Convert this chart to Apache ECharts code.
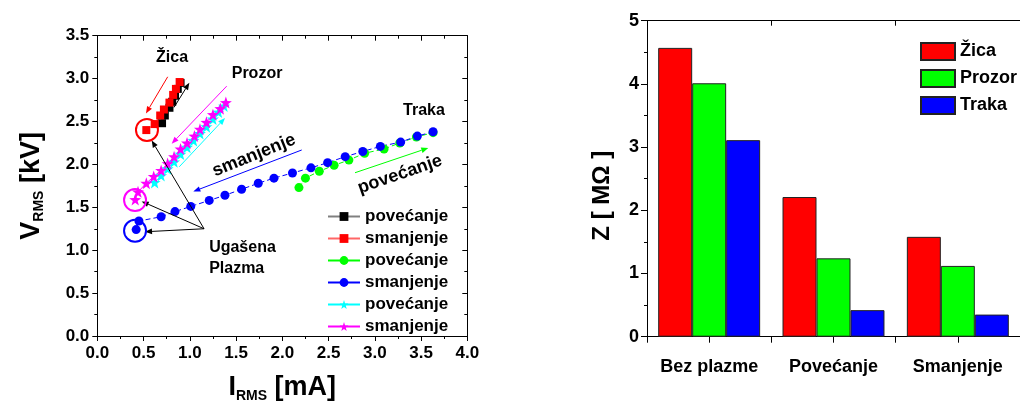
<!DOCTYPE html>
<html><head><meta charset="utf-8">
<script src="https://cdn.jsdelivr.net/npm/echarts@6/dist/echarts.min.js"></script>
<style>html,body{margin:0;padding:0;background:#fff}#c{width:1020px;height:408px}</style>
</head><body><div id="c"></div>
<script>
// ---- Left chart data: [I_RMS mA, V_RMS kV]
const zicaUp = [[0.70,2.48],[0.73,2.57],[0.78,2.66],[0.81,2.73],[0.84,2.80],[0.87,2.88],[0.90,2.95]];
const zicaDown = [[0.89,2.96],[0.85,2.88],[0.82,2.81],[0.78,2.72],[0.72,2.64],[0.68,2.57],[0.62,2.47],[0.53,2.40]];
const trakaUp = [[2.18,1.73],[2.25,1.84],[2.40,1.92],[2.56,1.99],[2.72,2.05],[2.89,2.13],[3.10,2.18],[3.27,2.25],[3.45,2.32],[3.63,2.37]];
const trakaDown = [[3.63,2.38],[3.46,2.33],[3.28,2.26],[3.06,2.21],[2.87,2.15],[2.68,2.09],[2.49,2.02],[2.31,1.96],[2.11,1.90],[1.91,1.84],[1.74,1.78],[1.56,1.71],[1.38,1.64],[1.21,1.58],[1.01,1.51],[0.84,1.45],[0.69,1.39],[0.45,1.34],[0.42,1.24]];
const prozorUp = [[0.62,1.79],[0.69,1.87],[0.76,1.95],[0.83,2.03],[0.90,2.12],[0.97,2.20],[1.04,2.28],[1.11,2.36],[1.18,2.44],[1.25,2.53],[1.31,2.61],[1.37,2.68]];
const prozorDown = [[1.39,2.72],[1.33,2.65],[1.25,2.58],[1.18,2.49],[1.11,2.41],[1.05,2.33],[0.97,2.25],[0.90,2.18],[0.83,2.09],[0.76,2.01],[0.69,1.93],[0.61,1.86],[0.53,1.78],[0.44,1.68],[0.41,1.59]];
const leftNames = ['povećanje','smanjenje','povećanje\u200b','smanjenje\u200b','povećanje\u200b\u200b','smanjenje\u200b\u200b'];

// ---- Right chart data
const categories = ['Bez plazme','Povećanje','Smanjenje'];
const barNames = ['Žica','Prozor','Traka'];
const zicaZ = [4.57,2.21,1.58];
const prozorZ = [4.01,1.24,1.12];
const trakaZ = [3.11,0.42,0.35];

// ---- Annotations (data coordinates of left chart)
const arrows = [
  {from:[0.761,3.021], to:[0.526,2.594], color:'#ff0000'},
  {from:[0.829,2.664], to:[0.995,2.952], color:'#000000'},
  {from:[1.399,2.912], to:[0.804,2.241], color:'#ff00ff'},
  {from:[0.886,1.972], to:[1.381,2.540], color:'#00ffff'},
  {from:[2.210,2.168], to:[1.038,1.684], color:'#0000ff'},
  {from:[2.786,1.903], to:[3.578,2.191], color:'#00ff00'},
  {from:[1.154,1.250], to:[0.588,2.279], color:'#000000'},
  {from:[1.154,1.250], to:[0.480,1.569], color:'#000000'},
  {from:[1.154,1.250], to:[0.516,1.215], color:'#000000'}
];
const rings = [
  {at:[0.537,2.402], color:'#ff0000'},
  {at:[0.408,1.584], color:'#ff00ff'},
  {at:[0.408,1.227], color:'#0000ff'}
];
const notes = [
  {text:'Žica', at:[0.808,3.243], rot:0, size:16},
  {text:'Prozor', at:[1.727,3.059], rot:0, size:16},
  {text:'Traka', at:[3.532,2.632], rot:0, size:16},
  {text:'smanjenje', at:[1.694,2.106], rot:22, size:18},
  {text:'povećanje', at:[3.272,1.884], rot:19, size:18}
];
const noteBlock = {lines:['Ugašena','Plazma'], at:[1.209,1.158]};

const FONT = '"Liberation Sans", Arial, sans-serif';
const star = 'path://M0,-10 L2.35,-3.24 9.51,-3.09 3.8,1.24 5.88,8.09 0,4 -5.88,8.09 -3.8,1.24 -9.51,-3.09 -2.35,-3.24 Z';

const chart = echarts.init(document.getElementById('c'), null, {renderer:'canvas'});
const axisCommon = {
  axisLine:{show:true, onZero:false, lineStyle:{color:'#000', width:1}},
  splitLine:{show:false}
};
function lineSeries(name, data, color, lineColor, symbol, size, dashed){
  return {name, type:'line', xAxisIndex:0, yAxisIndex:0, data, symbol, symbolSize:size,
    itemStyle:{color, borderWidth:0}, lineStyle:{color:lineColor, width:1, type: dashed ? [5,3] : 'solid'},
    emphasis:{disabled:true}, animation:false, z:3};
}
const option = {
  animation:false,
  backgroundColor:'#fff',
  textStyle:{fontFamily:FONT},
  grid:[
    {left:97.3, top:35.7, width:370, height:303.8},
    {left:647, top:20.7, width:386, height:316}
  ],
  xAxis:[
    Object.assign({}, axisCommon, {type:'value', gridIndex:0, min:0, max:4, interval:0.5, position:'bottom',
      axisTick:{show:true, length:5, lineStyle:{color:'#000'}},
      minorTick:{show:true, splitNumber:2, length:3, lineStyle:{color:'#000'}},
      axisLabel:{color:'#000', fontSize:17, fontWeight:'bold', fontFamily:FONT, margin:9, formatter:v=>v.toFixed(1)},
      name:'{b|I}{s|RMS}{b| [mA]}', nameLocation:'middle', nameGap:37,
      nameTextStyle:{rich:{b:{fontSize:27, fontWeight:'bold', color:'#000', fontFamily:FONT, lineHeight:30},
                           s:{fontSize:14, fontWeight:'bold', color:'#000', fontFamily:FONT, verticalAlign:'bottom', lineHeight:30}}}
    }),
    Object.assign({}, axisCommon, {type:'value', gridIndex:0, min:0, max:4, interval:0.5, position:'top',
      axisTick:{show:true, inside:true, length:5, lineStyle:{color:'#000'}},
      minorTick:{show:true, splitNumber:2, length:3, lineStyle:{color:'#000'}},
      axisLabel:{show:false}}),
    Object.assign({}, axisCommon, {type:'category', gridIndex:1, data:categories, position:'bottom',
      axisTick:{show:true, interval:0, length:6, lineStyle:{color:'#000', width:1}},
      axisLabel:{color:'#000', fontSize:18, fontWeight:'bold', fontFamily:FONT, margin:21, interval:0}}),
    Object.assign({}, axisCommon, {type:'category', gridIndex:1, data:categories, position:'bottom',
      axisLine:{show:false}, axisTick:{show:true, interval:0, alignWithLabel:true, length:6, lineStyle:{color:'#000', width:1}},
      axisLabel:{show:false}}),
    Object.assign({}, axisCommon, {type:'category', gridIndex:1, data:categories, position:'top',
      axisTick:{show:true, interval:0, inside:true, length:5, lineStyle:{color:'#000'}},
      axisLabel:{show:false}})
  ],
  yAxis:[
    Object.assign({}, axisCommon, {type:'value', gridIndex:0, min:0, max:3.5, interval:0.5, position:'left',
      axisTick:{show:true, length:5, lineStyle:{color:'#000'}},
      minorTick:{show:true, splitNumber:2, length:3, lineStyle:{color:'#000'}},
      axisLabel:{color:'#000', fontSize:17, fontWeight:'bold', fontFamily:FONT, margin:8, formatter:v=>v.toFixed(1)},
      name:'{b|V}{s|RMS}{b| [kV]}', nameLocation:'middle', nameGap:51,
      nameTextStyle:{rich:{b:{fontSize:27, fontWeight:'bold', color:'#000', fontFamily:FONT, lineHeight:30},
                           s:{fontSize:14, fontWeight:'bold', color:'#000', fontFamily:FONT, verticalAlign:'bottom', lineHeight:30}}}
    }),
    Object.assign({}, axisCommon, {type:'value', gridIndex:0, min:0, max:3.5, interval:0.5, position:'right',
      axisTick:{show:true, inside:true, length:5, lineStyle:{color:'#000'}},
      minorTick:{show:true, splitNumber:2, length:3, lineStyle:{color:'#000'}},
      axisLabel:{show:false}}),
    Object.assign({}, axisCommon, {type:'value', gridIndex:1, min:0, max:5, interval:1, position:'left',
      axisTick:{show:true, length:6, lineStyle:{color:'#000'}},
      minorTick:{show:true, splitNumber:2, length:3, lineStyle:{color:'#000'}},
      axisLabel:{color:'#000', fontSize:18, fontWeight:'bold', fontFamily:FONT, margin:8},
      name:'Z [ MΩ ]', nameLocation:'middle', nameGap:33,
      nameTextStyle:{fontSize:24, fontWeight:'bold', color:'#000', fontFamily:FONT, padding:[0,34,0,0]}
    })
  ],
  legend:[
    {data:leftNames.map(n => ({name:n, lineStyle:{type:'solid'}})), orient:'vertical', left:322, top:203, itemWidth:32, itemHeight:11, itemGap:5,
      textStyle:{fontSize:17, fontWeight:'bold', color:'#000', fontFamily:FONT, lineHeight:17}, selectedMode:false},
    {data:barNames.map(n => ({name:n, icon:'rect'})), orient:'vertical', left:915, top:37, itemWidth:34, itemHeight:17, itemGap:8,
      textStyle:{fontSize:18, fontWeight:'bold', color:'#000', fontFamily:FONT}, selectedMode:false}
  ],
  series:[
    lineSeries(leftNames[0], zicaUp, '#000000', '#808080', 'rect', 8, false),
    lineSeries(leftNames[1], zicaDown, '#ff0000', '#ff6666', 'rect', 8, false),
    lineSeries(leftNames[2], trakaUp, '#00ff00', '#00ff00', 'circle', 9, true),
    lineSeries(leftNames[3], trakaDown, '#0000ff', '#0000ff', 'circle', 9, true),
    lineSeries(leftNames[4], prozorUp, '#00ffff', '#00ffff', star, 12, false),
    lineSeries(leftNames[5], prozorDown, '#ff00ff', '#ff00ff', star, 12, false),
    {name:barNames[0], type:'bar', xAxisIndex:2, yAxisIndex:2, data:zicaZ, barGap:'0%', barCategoryGap:'18%',
      itemStyle:{color:'#ff0000', borderColor:'#222', borderWidth:1}},
    {name:barNames[1], type:'bar', xAxisIndex:2, yAxisIndex:2, data:prozorZ, barGap:'0%', barCategoryGap:'18%',
      itemStyle:{color:'#00ff00', borderColor:'#222', borderWidth:1}},
    {name:barNames[2], type:'bar', xAxisIndex:2, yAxisIndex:2, data:trakaZ, barGap:'0%', barCategoryGap:'18%',
      itemStyle:{color:'#0000ff', borderColor:'#222', borderWidth:1}}
  ]
};
chart.setOption(option);

// annotations placed through the left grid's scales
const px = p => chart.convertToPixel({gridIndex:0}, p);
const g = [];
arrows.forEach(a => {
  const p1 = px(a.from), p2 = px(a.to);
  const dx = p2[0]-p1[0], dy = p2[1]-p1[1], L = Math.hypot(dx,dy);
  const ux = dx/L, uy = dy/L, hl = 7, hw = 2.8;
  const bx = p2[0]-ux*hl, by = p2[1]-uy*hl;
  g.push({type:'line', shape:{x1:p1[0], y1:p1[1], x2:bx, y2:by}, style:{stroke:a.color, lineWidth:1}, z:10, silent:true});
  g.push({type:'polygon', shape:{points:[[p2[0],p2[1]],[bx-uy*hw, by+ux*hw],[bx+uy*hw, by-ux*hw]]}, style:{fill:a.color}, z:10, silent:true});
});
rings.forEach(r => {
  const c = px(r.at);
  g.push({type:'circle', shape:{cx:c[0], cy:c[1], r:11}, style:{fill:null, stroke:r.color, lineWidth:2}, z:10, silent:true});
});
notes.forEach(n => {
  const c = px(n.at);
  g.push({type:'text', x:c[0], y:c[1], rotation:n.rot*Math.PI/180, z:10, silent:true,
    style:{text:n.text, font:'bold '+n.size+'px '+FONT, fill:'#000', textAlign:'center', textVerticalAlign:'middle'}});
});
{
  const c = px(noteBlock.at);
  g.push({type:'text', x:c[0], y:c[1], z:10, silent:true,
    style:{text:noteBlock.lines.join('\n'), font:'bold 16px '+FONT, fill:'#000', textAlign:'left', textVerticalAlign:'top', lineHeight:21}});
}
chart.setOption({graphic:g});
</script>
</body></html>
